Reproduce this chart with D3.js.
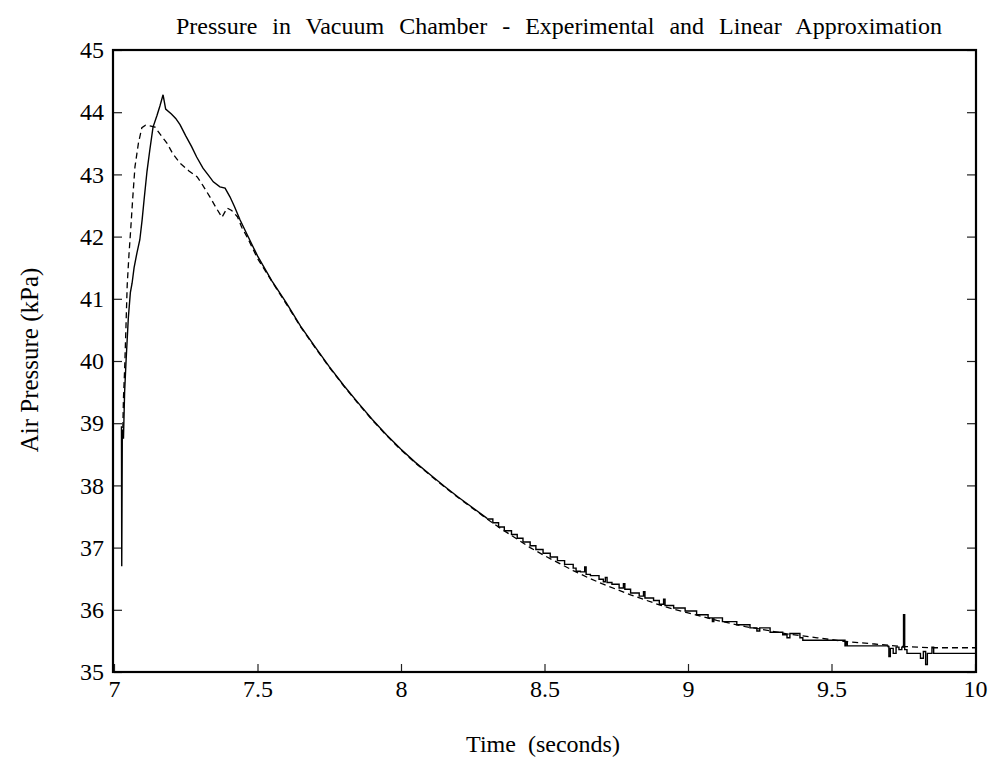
<!DOCTYPE html>
<html>
<head>
<meta charset="utf-8">
<script src="https://cdn.jsdelivr.net/npm/d3@7"></script>
<style>
  html, body { margin: 0; padding: 0; background: #fff; }
  svg { display: block; }
  text { font-family: "Liberation Serif", "Times New Roman", serif; fill: #000; }
</style>
</head>
<body>
<svg id="chart" width="993" height="761"></svg>
<script>
// ---- Data ----
const xTicks = [7, 7.5, 8, 8.5, 9, 9.5, 10];
const yTicks = [35, 36, 37, 38, 39, 40, 41, 42, 43, 44, 45];

// Experimental (solid) – rise and early decay
const solidTime = [7.026, 7.027, 7.029, 7.033, 7.037, 7.042, 7.050, 7.057, 7.063, 7.070, 7.080, 7.090, 7.098,
  7.105, 7.115, 7.125, 7.136, 7.150, 7.160, 7.171, 7.180, 7.200, 7.215, 7.230, 7.250, 7.270, 7.288, 7.310,
  7.330, 7.346, 7.369, 7.387, 7.404, 7.420, 7.439, 7.462, 7.50, 7.55, 7.60, 7.65, 7.70, 7.75, 7.80, 7.85,
  7.90, 7.95, 8.00, 8.05, 8.10, 8.15, 8.20, 8.25, 8.30];
const solidPressure = [38.95, 36.70, 38.90, 38.75, 39.50, 40.00, 40.70, 41.10, 41.25, 41.50, 41.74, 41.95, 42.27,
  42.60, 43.05, 43.40, 43.76, 43.95, 44.10, 44.28, 44.05, 43.97, 43.90, 43.80, 43.62, 43.45, 43.28, 43.10,
  42.98, 42.88, 42.80, 42.78, 42.64, 42.48, 42.27, 42.05, 41.69, 41.29, 40.94, 40.56, 40.23, 39.91, 39.61, 39.33,
  39.06, 38.81, 38.58, 38.37, 38.18, 37.99, 37.81, 37.64, 37.47];

// Experimental (solid) – quantised late decay (held until next time)
const solidStepTime = [8.300, 8.320, 8.340, 8.360, 8.385, 8.405, 8.425, 8.450, 8.470, 8.495, 8.520, 8.545, 8.570,
  8.600, 8.610, 8.625, 8.640, 8.645, 8.660, 8.690, 8.705, 8.712, 8.718, 8.735, 8.760, 8.775, 8.780, 8.800,
  8.830, 8.845, 8.850, 8.880, 8.900, 8.915, 8.920, 8.950, 8.990, 9.030, 9.070, 9.085, 9.090, 9.120, 9.170,
  9.216, 9.240, 9.250, 9.286, 9.330, 9.345, 9.355, 9.390, 9.400, 9.547, 9.550, 9.555, 9.697, 9.700, 9.705,
  9.715, 9.725, 9.735, 9.745, 9.751, 9.755, 9.763, 9.800, 9.810, 9.820, 9.828, 9.834, 9.850, 9.856, 10.0];
const solidStepPressure = [37.46, 37.40, 37.33, 37.27, 37.21, 37.15, 37.09, 37.03, 36.97, 36.91, 36.85, 36.79, 36.73,
  36.67, 36.62, 36.61, 36.69, 36.57, 36.55, 36.49, 36.45, 36.52, 36.44, 36.41, 36.35, 36.42, 36.33, 36.27,
  36.22, 36.29, 36.19, 36.15, 36.09, 36.17, 36.07, 36.03, 35.98, 35.92, 35.87, 35.81, 35.87, 35.81, 35.76,
  35.71, 35.66, 35.71, 35.64, 35.60, 35.55, 35.62, 35.55, 35.51, 35.42, 35.47, 35.42, 35.41, 35.25, 35.38,
  35.30, 35.40, 35.36, 35.40, 35.92, 35.36, 35.30, 35.30, 35.22, 35.33, 35.12, 35.30, 35.40, 35.30, 35.30];

// Linear approximation (dashed)
const dashTime = [7.030, 7.033, 7.037, 7.042, 7.046, 7.052, 7.058, 7.065, 7.073, 7.085, 7.097, 7.110, 7.125,
  7.143, 7.160, 7.185, 7.205, 7.230, 7.260, 7.290, 7.310, 7.334, 7.355, 7.376, 7.394, 7.410, 7.430, 7.445,
  7.463, 7.50, 7.55, 7.60, 7.65, 7.70, 7.75, 7.80, 7.85, 7.90, 7.95, 8.00, 8.05, 8.10, 8.15, 8.20, 8.25, 8.30,
  8.35, 8.40, 8.45, 8.50, 8.55, 8.60, 8.65, 8.70, 8.75, 8.80, 8.85, 8.90, 8.95, 9.00, 9.05, 9.10, 9.15, 9.20,
  9.25, 9.30, 9.35, 9.40, 9.45, 9.50, 9.55, 9.60, 9.65, 9.70, 9.75, 9.80, 9.85, 9.90, 9.95, 10.0];
const dashPressure = [38.76, 39.40, 39.86, 40.60, 41.22, 41.70, 42.10, 42.60, 43.12, 43.50, 43.75, 43.79, 43.78,
  43.76, 43.65, 43.50, 43.33, 43.18, 43.06, 42.96, 42.82, 42.64, 42.47, 42.31, 42.46, 42.42, 42.32, 42.15,
  42.00, 41.65, 41.28, 40.92, 40.55, 40.22, 39.90, 39.60, 39.32, 39.05, 38.80, 38.57, 38.36, 38.17, 37.98, 37.80,
  37.63, 37.46, 37.30, 37.15, 37.00, 36.87, 36.75, 36.63, 36.52, 36.42, 36.33, 36.24, 36.16, 36.08, 36.01, 35.95,
  35.89, 35.83, 35.78, 35.73, 35.69, 35.65, 35.61, 35.58, 35.55, 35.52, 35.49, 35.47, 35.45, 35.43, 35.41, 35.40,
  35.39, 35.39, 35.39, 35.39];

// ---- Layout ----
const svg = d3.select("#chart");
const L = 114, R = 975, T = 50, B = 672;
const x = d3.scaleLinear().domain([7, 10]).range([L, R]);
const y = d3.scaleLinear().domain([35, 45]).range([B, T]);

svg.append("defs").append("clipPath").attr("id", "clip")
  .append("rect").attr("x", L).attr("y", T).attr("width", R - L).attr("height", B - T);

// Axes (ticks inward)
const xAxis = d3.axisBottom(x).tickValues(xTicks).tickSize(-8).tickPadding(8).tickFormat(d3.format("~g"));
const yAxisL = d3.axisLeft(y).tickValues(yTicks).tickSize(-8).tickPadding(10).tickFormat(d3.format("d"));
const yAxisR = d3.axisRight(y).tickValues(yTicks).tickSize(-8).tickFormat("");

const gx = svg.append("g").attr("transform", `translate(0,${B})`).call(xAxis);
const gyl = svg.append("g").attr("transform", `translate(${L},0)`).call(yAxisL);
const gyr = svg.append("g").attr("transform", `translate(${R},0)`).call(yAxisR);
[gx, gyl, gyr].forEach(g => {
  g.attr("font-family", null).attr("font-size", null);
  g.select(".domain").remove();
  g.selectAll(".tick line").attr("stroke", "#222").attr("stroke-width", 1.2);
  g.selectAll(".tick text").style("font-family", "'Liberation Serif', serif").style("font-size", "24px").attr("fill", "#000");
});

// Frame
svg.append("rect").attr("x", L - 1).attr("y", T).attr("width", R - L + 2).attr("height", B - T)
  .attr("fill", "none").attr("stroke", "#000").attr("stroke-width", 2.2);

// Lines
const plot = svg.append("g").attr("clip-path", "url(#clip)");
const lin = d3.line().x(d => x(d[0])).y(d => y(d[1])).curve(d3.curveLinear);
const stp = d3.line().x(d => x(d[0])).y(d => y(d[1])).curve(d3.curveStepAfter);

plot.append("path").datum(dashTime.map((t, i) => [t, dashPressure[i]]))
  .attr("d", lin).attr("fill", "none").attr("stroke", "#000").attr("stroke-width", 1.3)
  .attr("stroke-dasharray", "6,4");
plot.append("path").datum(solidTime.map((t, i) => [t, solidPressure[i]]))
  .attr("d", lin).attr("fill", "none").attr("stroke", "#000").attr("stroke-width", 1.4);
plot.append("path").datum(solidStepTime.map((t, i) => [t, solidStepPressure[i]]))
  .attr("d", stp).attr("fill", "none").attr("stroke", "#000").attr("stroke-width", 1.4);

// Titles
svg.append("text").attr("x", 559).attr("y", 34).attr("text-anchor", "middle")
  .style("font-size", "24px").style("word-spacing", "9px")
  .text("Pressure in Vacuum Chamber - Experimental and Linear Approximation");
svg.append("text").attr("x", 543).attr("y", 752).attr("text-anchor", "middle")
  .style("font-size", "24px").style("white-space", "pre")
  .text("Time  (seconds)");
svg.append("text").attr("transform", "translate(38,360) rotate(-90)").attr("text-anchor", "middle")
  .style("font-size", "25px")
  .text("Air Pressure (kPa)");
</script>
</body>
</html>
